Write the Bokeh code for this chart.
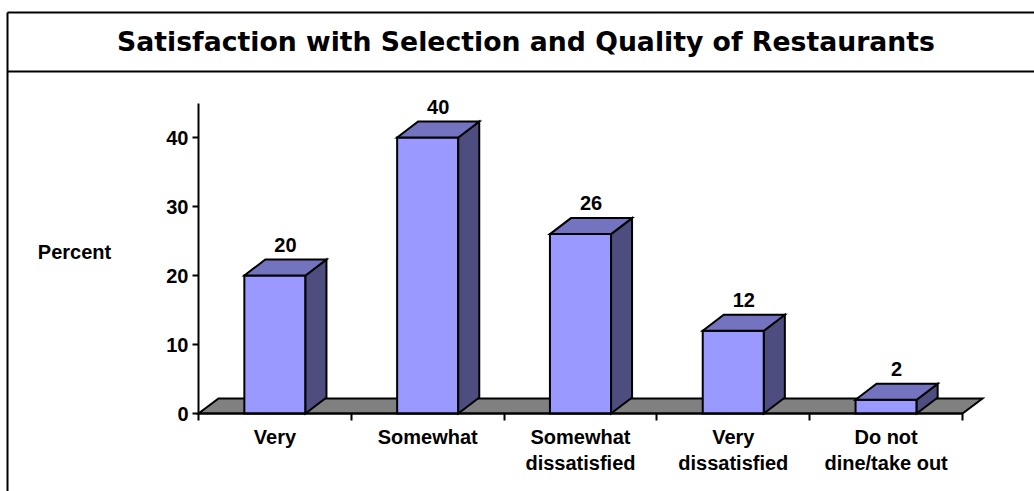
from bokeh.plotting import figure
from bokeh.models import LinearAxis, FixedTicker, Label, Range1d, ColumnDataSource
from bokeh.core.properties import value
from bokeh.embed import file_html
from bokeh.resources import INLINE

# ---------------- data ----------------
title_text = "Satisfaction with Selection and Quality of Restaurants"
categories = ["Very", "Somewhat", "Somewhat\ndissatisfied", "Very\ndissatisfied", "Do not\ndine/take out"]
percent = [20, 40, 26, 12, 2]
y_ticks = [0, 10, 20, 30, 40]
y_max = 45
y_label = "Percent"

# ---------------- layout (pixels) ----------------
W, H = 1034, 491
X0_PX, Y0_PX = 198, 413   # pixel of the axes origin
CAT_PX = 152.8            # pixels per category
UNIT_PX = 6.9             # pixels per percent unit

def xd(px):
    return (px - X0_PX) / CAT_PX

def yd(py):
    return (Y0_PX - py) / UNIT_PX

BAR_W = 0.4
bar_dx, bar_dy = 21 / CAT_PX, 16 / UNIT_PX
floor_dx, floor_dy = 20 / CAT_PX, 15 / UNIT_PX
label_gap = 15 / UNIT_PX

FONT = "Liberation Sans"
FRONT, TOP, SIDE, FLOOR = "#9999FF", "#7373BF", "#4D4D80", "#808080"

p = figure(width=W, height=H,
           x_range=Range1d(xd(0), xd(W)), y_range=Range1d(yd(H), yd(0)),
           x_axis_type=None, y_axis_type=None,
           output_backend="svg", toolbar_location=None, title=None,
           min_border=0)
p.outline_line_color = None
p.background_fill_color = "white"
p.border_fill_color = "white"

# outer box (left + top edges) and title band separator
p.segment(x0=[xd(7), xd(7), xd(7)], y0=[yd(12), yd(12), yd(71)],
          x1=[xd(7), xd(W + 10), xd(W + 10)], y1=[yd(H + 10), yd(12), yd(71)],
          line_color="black", line_width=2)

# title
p.add_layout(Label(x=xd(525.5), y=yd(40.5), text=title_text,
                   text_align="center", text_baseline="middle",
                   text_font="DejaVu Sans", text_font_style="bold",
                   text_font_size="26.7px", text_color="black"))

# y axis title
p.add_layout(Label(x=xd(74), y=yd(251), text=y_label,
                   text_align="center", text_baseline="middle",
                   text_font=FONT, text_font_style="bold",
                   text_font_size="20px", text_color="black"))

n = len(categories)
xc = [i + 0.5 for i in range(n)]
half = BAR_W / 2

# floor
p.patch(x=[0, n, n + floor_dx, floor_dx], y=[0, 0, floor_dy, floor_dy],
        fill_color=FLOOR, line_color="black", line_width=2, line_join="miter")

# bars: front faces
p.vbar(x=xc, top=percent, bottom=0, width=BAR_W, fill_color=FRONT,
       line_color="black", line_width=2, line_join="miter")
# side faces
side_xs = [[x + half, x + half + bar_dx, x + half + bar_dx, x + half] for x in xc]
side_ys = [[0, bar_dy, v + bar_dy, v] for v in percent]
p.patches(xs=side_xs, ys=side_ys, fill_color=SIDE, line_color="black",
          line_width=2, line_join="miter")
# top faces
top_xs = [[x - half, x - half + bar_dx, x + half + bar_dx, x + half] for x in xc]
top_ys = [[v, v + bar_dy, v + bar_dy, v] for v in percent]
p.patches(xs=top_xs, ys=top_ys, fill_color=TOP, line_color="black",
          line_width=2, line_join="miter")

# value labels
lab = ColumnDataSource(dict(x=[x + bar_dx / 2 for x in xc],
                            y=[v + bar_dy + label_gap for v in percent],
                            t=[str(v) for v in percent]))
p.text(x="x", y="y", text="t", source=lab, text_align="center",
       text_baseline="middle",
       text_font=value(FONT), text_font_style="bold", text_font_size="20px",
       text_color="black")

# y axis
yax = LinearAxis(fixed_location=0, bounds=(0, y_max),
                 ticker=FixedTicker(ticks=y_ticks, minor_ticks=[]),
                 axis_line_color="black", axis_line_width=2,
                 major_tick_line_color="black", major_tick_line_width=2,
                 major_tick_out=6, major_tick_in=0,
                 minor_tick_out=0, minor_tick_in=0,
                 major_label_standoff=4,
                 major_label_text_font=FONT, major_label_text_font_style="bold",
                 major_label_text_font_size="20px", major_label_text_color="black")
p.add_layout(yax, "left")

# x axis (labels at category centres, ticks at category boundaries)
xax = LinearAxis(fixed_location=0, bounds=(0, n),
                 ticker=FixedTicker(ticks=xc, minor_ticks=list(range(n + 1))),
                 major_label_overrides={x: c for x, c in zip(xc, categories)},
                 axis_line_color="black", axis_line_width=2,
                 major_tick_out=0, major_tick_in=0,
                 minor_tick_out=7, minor_tick_in=0,
                 minor_tick_line_color="black", minor_tick_line_width=2,
                 major_label_standoff=5,
                 major_label_text_font=FONT, major_label_text_font_style="bold",
                 major_label_text_font_size="20px", major_label_text_color="black")
p.add_layout(xax, "below")

open("out.html", "w").write(file_html(p, INLINE))
